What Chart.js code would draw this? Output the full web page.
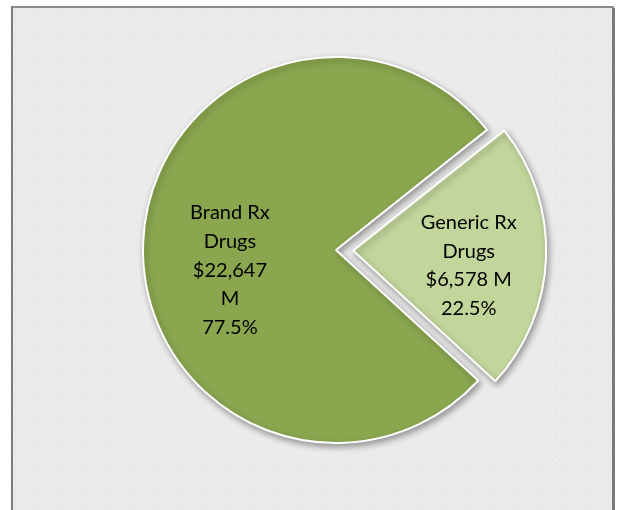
<!DOCTYPE html>
<html>
<head>
<meta charset="utf-8">
<script src="https://cdn.jsdelivr.net/npm/chart.js@4/dist/chart.umd.min.js"></script>
<style>
  html, body { margin: 0; padding: 0; background: #ffffff; }
  #wrap { width: 623px; height: 510px; }
</style>
</head>
<body>
<div id="wrap"><canvas id="pie" width="623" height="510"></canvas></div>
<script>
// Prescription drug spending split
const categories = ['Generic Rx Drugs', 'Brand Rx Drugs'];
const spendingMillions = [6578, 22647];
const shareLabels = ['22.5%', '77.5%'];
const labelLines = [
  ['Generic Rx', 'Drugs', '$6,578 M', '22.5%'],
  ['Brand Rx', 'Drugs', '$22,647', 'M', '77.5%']
];

const sliceColors = ['#c2d59b', '#8aa64f'];

// Dotted fill used for the chart frame
function makeDotPattern(ctx) {
  const p = document.createElement('canvas');
  p.width = 6; p.height = 6;
  const c = p.getContext('2d');
  c.fillStyle = '#e9e9e9';
  c.fillRect(0, 0, 6, 6);
  c.fillStyle = '#f7f7f7';
  c.fillRect(1, 1, 1, 1);
  c.fillRect(4, 4, 1, 1);
  return ctx.createPattern(p, 'repeat');
}

const framePlugin = {
  id: 'frame',
  beforeDraw(chart) {
    const ctx = chart.ctx;
    ctx.save();
    ctx.fillStyle = '#ffffff';
    ctx.fillRect(0, 0, chart.width, chart.height);
    // outer frame with dotted texture
    ctx.fillStyle = makeDotPattern(ctx);
    ctx.fillRect(12, 7, 601, 503);
    // plain inner plot area
    ctx.fillStyle = '#ebebeb';
    ctx.fillRect(128, 50, 426, 407);
    // frame edges
    ctx.fillStyle = '#8c8c8c';
    ctx.fillRect(11, 6, 603, 2);
    ctx.fillStyle = '#7a7a7a';
    ctx.fillRect(11, 6, 2, 504);
    ctx.fillRect(612, 8, 3, 502);
    ctx.restore();
  }
};

const shadowPlugin = {
  id: 'sliceShadow',
  beforeDatasetsDraw(chart) {
    const ctx = chart.ctx;
    ctx.save();
    ctx.shadowColor = 'rgba(0,0,0,0.35)';
    ctx.shadowBlur = 6;
    ctx.shadowOffsetX = 2;
    ctx.shadowOffsetY = 3;
  },
  afterDatasetsDraw(chart) {
    chart.ctx.restore();
  }
};

const sliceLabelPlugin = {
  id: 'sliceLabels',
  afterDatasetsDraw(chart, args, opts) {
    const ctx = chart.ctx;
    const meta = chart.getDatasetMeta(0);
    ctx.save();
    ctx.font = opts.font;
    ctx.fillStyle = '#000000';
    ctx.textAlign = 'center';
    ctx.textBaseline = 'middle';
    meta.data.forEach((arc, i) => {
      const p = arc.getProps(['x', 'y', 'startAngle', 'endAngle', 'outerRadius'], true);
      const mid = (p.startAngle + p.endAngle) / 2;
      // arcs are pushed out by a quarter of their offset value
      const push = (arc.options.offset || 0) / 4;
      const r = p.outerRadius * opts.radiusFraction[i] + push;
      const cx = p.x + Math.cos(mid) * r;
      const cy = p.y + Math.sin(mid) * r + opts.shiftY[i];
      const lines = labelLines[i];
      const top = cy - (lines.length - 1) * opts.lineHeight / 2;
      lines.forEach((t, k) => ctx.fillText(t, cx, top + k * opts.lineHeight));
    });
    ctx.restore();
  }
};

new Chart(document.getElementById('pie'), {
  type: 'pie',
  data: {
    labels: categories,
    datasets: [{
      data: spendingMillions,
      backgroundColor: sliceColors,
      borderColor: '#ffffff',
      borderWidth: 2,
      offset: [68, 0],
      hoverOffset: 0
    }]
  },
  options: {
    responsive: false,
    animation: false,
    rotation: 51.5,
    radius: 193,
    layout: { padding: { left: 49, right: 0, top: 0, bottom: 10 } },
    plugins: {
      legend: { display: false },
      tooltip: { enabled: false },
      sliceLabels: {
        font: '20px Lato',
        lineHeight: 28.7,
        radiusFraction: [0.6, 0.55],
        shiftY: [11, 24]
      }
    }
  },
  plugins: [framePlugin, shadowPlugin, sliceLabelPlugin]
});
</script>
</body>
</html>
